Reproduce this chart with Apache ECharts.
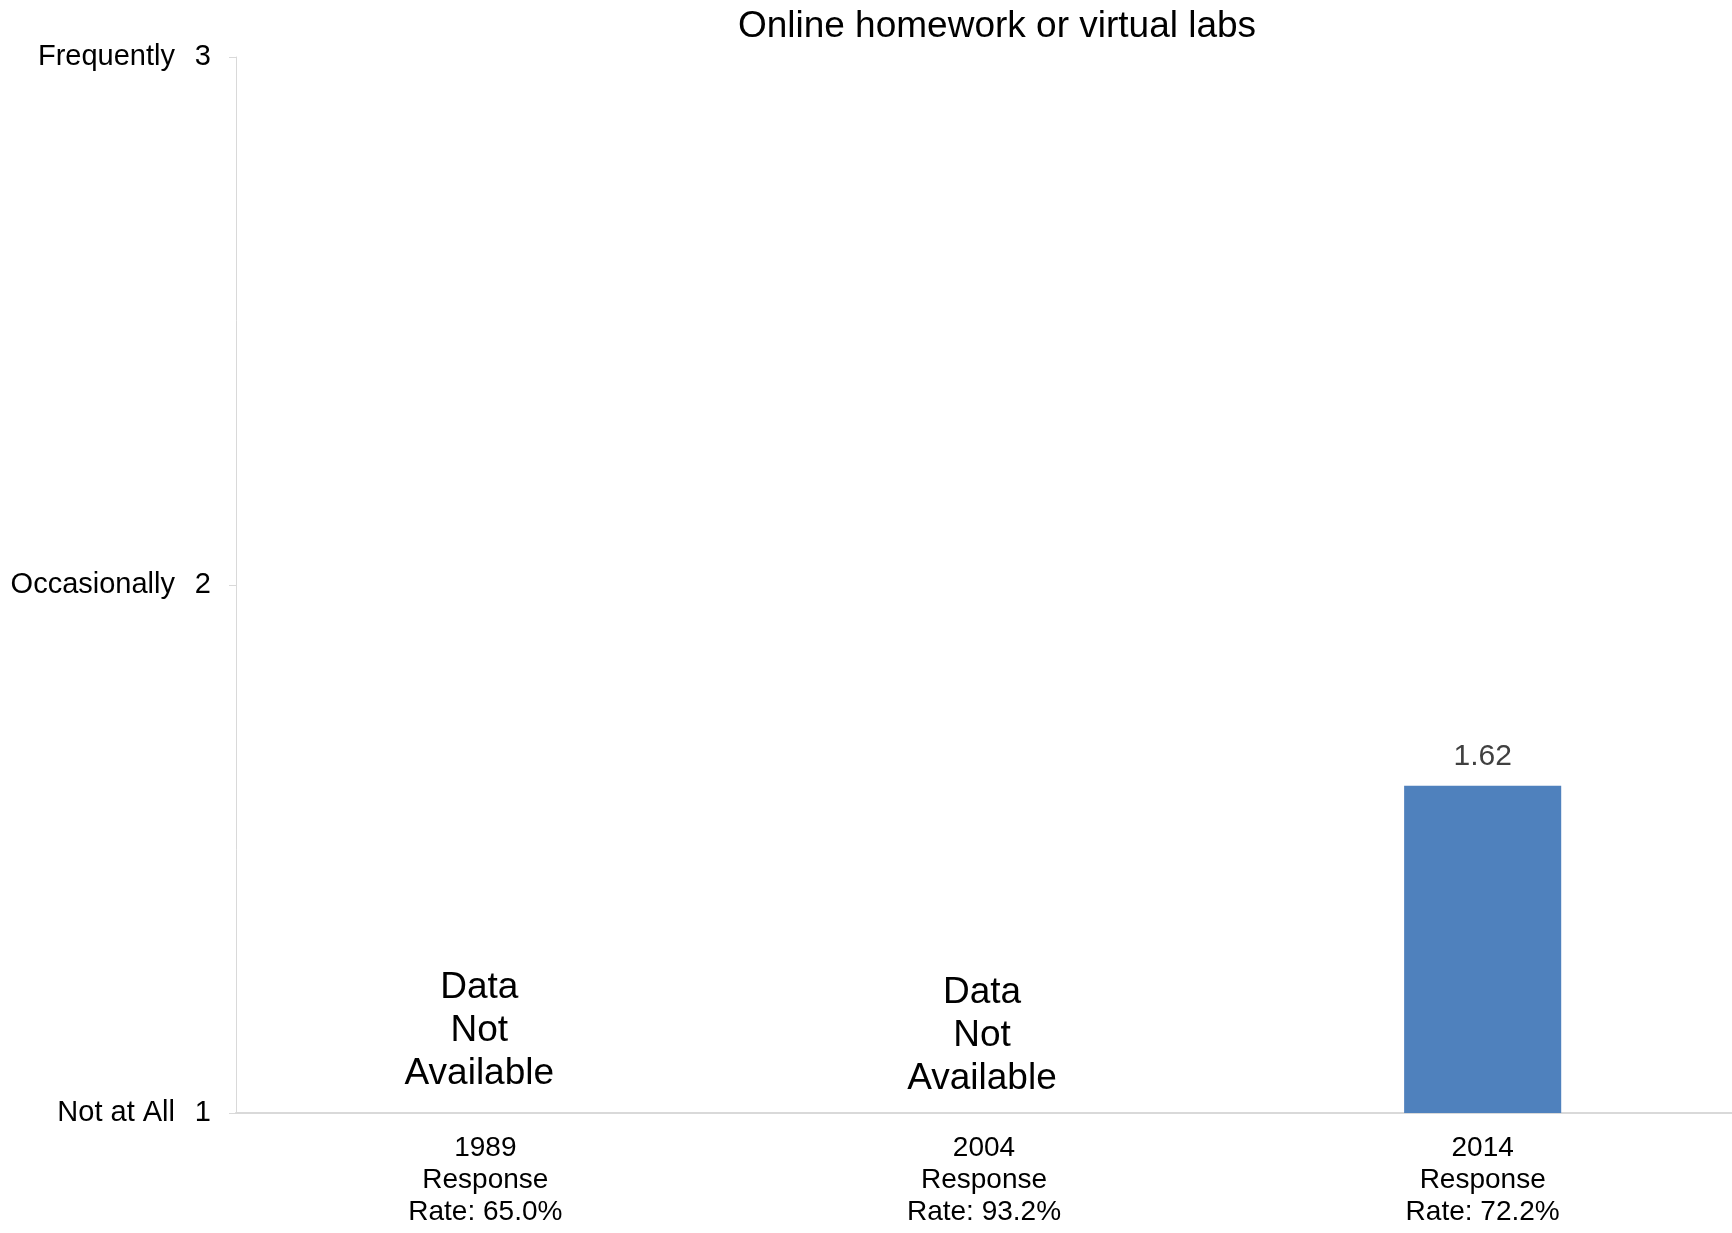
<!DOCTYPE html>
<html>
<head>
<meta charset="utf-8">
<script src="https://cdn.jsdelivr.net/npm/echarts@6/dist/echarts.min.js"></script>
<style>
  html, body { margin: 0; padding: 0; background: #fff; }
  #chart { width: 1732px; height: 1233px; }
</style>
</head>
<body>
<div id="chart"></div>
<script>
  // data
  var years = ['1989', '2004', '2014'];
  var responseRates = ['65.0%', '93.2%', '72.2%'];
  var scores = [null, null, 1.62];
  var scaleNames = { 1: 'Not at All', 2: 'Occasionally', 3: 'Frequently' };
  var naOffsets = [[-6, 0], [-2, 5]];

  var FONT = '"Liberation Sans", Arial, sans-serif';

  var chart = echarts.init(document.getElementById('chart'));

  var barData = scores.map(function (v, i) {
    if (v === null) {
      // no data: sit on the axis base and just show the note
      return {
        value: 1,
        itemStyle: { color: 'rgba(0,0,0,0)' },
        label: {
          show: true,
          position: 'top',
          distance: 18,
          offset: naOffsets[i],
          formatter: 'Data\nNot\nAvailable',
          fontSize: 37,
          lineHeight: 43,
          color: '#000',
          fontFamily: FONT
        }
      };
    }
    return { value: v };
  });

  chart.setOption({
    animation: false,
    title: {
      text: 'Online homework or virtual labs',
      left: 992,
      textAlign: 'center',
      top: 3,
      textStyle: { fontSize: 37, fontWeight: 'normal', color: '#000', fontFamily: FONT }
    },
    grid: { left: 236, right: 0, top: 57, bottom: 120 },
    xAxis: {
      type: 'category',
      data: years,
      axisLine: { lineStyle: { color: '#d9d9d9', width: 2 } },
      axisTick: { show: false },
      axisLabel: {
        margin: 19,
        fontSize: 28,
        lineHeight: 32,
        color: '#000',
        fontFamily: FONT,
        formatter: function (val, idx) {
          return val + '\nResponse\nRate: ' + responseRates[idx];
        }
      }
    },
    yAxis: {
      type: 'value',
      min: 1,
      max: 3,
      interval: 1,
      splitLine: { show: false },
      axisLine: { show: true, lineStyle: { color: '#d9d9d9', width: 1 } },
      axisTick: { show: true, length: 7, lineStyle: { color: '#d9d9d9' } },
      axisLabel: {
        margin: 25,
        fontSize: 29,
        color: '#000',
        fontFamily: FONT,
        formatter: function (v) {
          return '{n|' + scaleNames[v] + '}{v|' + v + '}';
        },
        rich: {
          n: { fontSize: 29, color: '#000', fontFamily: FONT },
          v: { fontSize: 29, color: '#000', fontFamily: FONT, width: 36, align: 'right' }
        }
      }
    },
    series: [{
      type: 'bar',
      data: barData,
      barWidth: '31.5%',
      itemStyle: { color: '#4f81bd' },
      label: {
        show: true,
        position: 'top',
        distance: 14,
        fontSize: 30,
        color: '#404040',
        fontFamily: FONT
      }
    }]
  });
</script>
</body>
</html>
